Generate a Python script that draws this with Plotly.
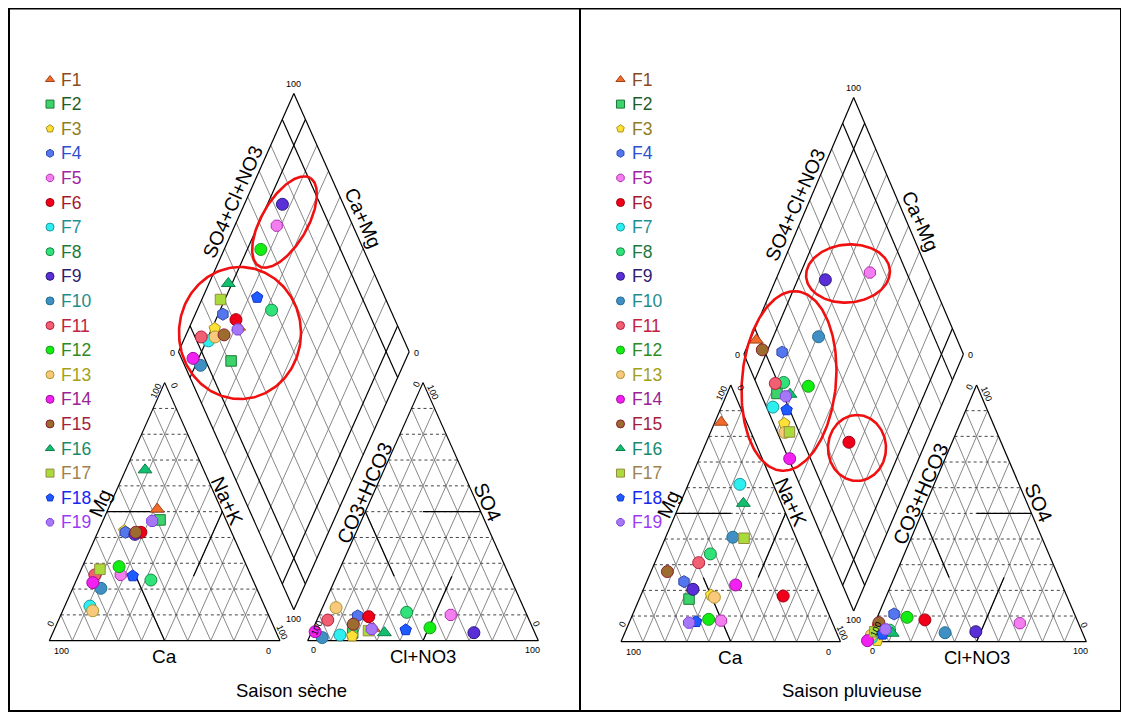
import numpy as np
import plotly.graph_objects as go

# Reference picture is 1129x715; the page body adds an 8px margin, so the figure covers
# reference pixels 8..1129 x 8..715.
REF_W, REF_H = 1129, 715
OFF = 8
W, H = REF_W - OFF, REF_H - OFF

samples = [f"F{i}" for i in range(1, 20)]

# ---------------- Saison sèche (meq %) ----------------
dry_ca = [27.7, 28.6, 46.2, 46.0, 56.3, 39.3, 75.7, 44.2, 42.3, 67.5, 67.5, 55.4, 75.4, 69.9, 41.5, 25.4, 64.2, 51.3, 32.2]
dry_mg = [51.0, 46.8, 42.6, 42.0, 25.5, 42.0, 13.4, 23.5, 41.2, 20.3, 25.5, 28.7, 11.6, 22.5, 42.0, 66.2, 27.7, 25.1, 46.4]
dry_nak = [21.3, 24.6, 11.2, 12.0, 18.2, 18.7, 10.9, 32.3, 16.5, 12.2, 7.0, 15.9, 13.0, 7.6, 16.5, 8.4, 8.1, 23.6, 21.4]
dry_hco3 = [69.2, 79.0, 79.8, 73.5, 33.0, 68.9, 84.9, 51.6, 26.4, 93.1, 87.3, 44.5, 81.3, 95.0, 77.0, 65.2, 71.7, 55.4, 70.0]
dry_so4 = [4.8, 3.0, 1.8, 9.6, 10.0, 9.3, 2.2, 11.0, 3.1, 1.2, 8.0, 5.0, 12.8, 3.5, 6.4, 3.1, 3.9, 4.2, 4.5]
dry_cl = [26.0, 18.0, 18.4, 16.9, 57.0, 21.8, 12.9, 37.4, 70.5, 5.7, 4.7, 50.5, 5.9, 1.5, 16.6, 31.7, 24.4, 40.4, 25.5]

# ---------------- Saison pluvieuse (meq %) ----------------
wet_ca = [11.6, 60.7, 49.9, 59.6, 50.3, 17.2, 15.2, 42.2, 57.0, 28.7, 49.2, 55.7, 48.8, 36.7, 65.2, 17.3, 23.8, 61.9, 65.3]
wet_mg = [85.5, 16.6, 18.2, 23.4, 8.2, 17.8, 61.3, 34.2, 20.4, 40.7, 30.8, 8.7, 17.3, 22.1, 27.3, 53.9, 40.3, 7.8, 7.4]
wet_nak = [2.9, 22.7, 31.9, 17.0, 41.5, 65.0, 23.5, 23.6, 22.6, 30.6, 20.0, 35.6, 33.9, 41.2, 7.5, 28.8, 35.9, 30.3, 27.3]
wet_hco3 = [91.6, 92.6, 95.1, 82.2, 26.7, 69.3, 97.1, 87.4, 48.4, 62.6, 91.4, 76.9, 96.6, 99.5, 90.8, 86.8, 94.4, 91.4, 89.1]
wet_so4 = [5.0, 4.0, 0.4, 10.8, 7.2, 8.5, 1.5, 4.5, 3.9, 3.5, 6.5, 9.5, 2.6, 0.4, 7.4, 3.3, 3.9, 2.9, 4.8]
wet_cl = [3.4, 3.4, 4.5, 7.0, 66.1, 22.2, 1.4, 8.1, 47.7, 33.9, 2.1, 13.6, 0.8, 0.1, 1.8, 9.9, 1.7, 5.7, 6.1]

symbols = ["triangle-up", "square", "pentagon", "hexagon", "octagon", "circle", "circle", "circle",
           "circle", "circle", "circle", "circle", "circle", "circle", "circle", "triangle-up",
           "square", "pentagon", "octagon"]
fill_colors = ["#F26B2A", "#3CD46A", "#FFE135", "#5577EE", "#F37EF0", "#F00018", "#2EEFF0", "#2FE27A",
               "#5B2FD6", "#3F8FC4", "#F25E72", "#12EE12", "#F9C87A", "#F220F0", "#9C6B2E", "#13BF6E",
               "#A9DB3D", "#1E5BFF", "#A678F7"]
edge_colors = ["#A0441C", "#1E7A36", "#A8901C", "#3048B0", "#B030B0", "#A00010", "#1A9AA0", "#1A8A44",
               "#2A1A80", "#23708F", "#B0203C", "#1C9A1C", "#A89830", "#A010A0", "#8A1C30", "#0B7F4A",
               "#9A8A40", "#1030D0", "#8040E0"]
text_colors = ["#8B4A1E", "#1F5E2A", "#8F7D22", "#2D4FCF", "#A025A6", "#A5192E", "#1E9195", "#1D7A3A",
               "#2E2070", "#1E8C8C", "#C0223F", "#2E8B1E", "#A5A01A", "#9A2295", "#A51E3C", "#178A6E",
               "#9E8250", "#1428F5", "#9C3AF5"]

seasons = [
    dict(title="Saison sèche", ca=dry_ca, mg=dry_mg, nak=dry_nak, hco3=dry_hco3, so4=dry_so4, cl=dry_cl),
    dict(title="Saison pluvieuse", ca=wet_ca, mg=wet_mg, nak=wet_nak, hco3=wet_hco3, so4=wet_so4, cl=wet_cl),
]

# panel placement (reference-pixel origin / scale of the Piper unit system)
panels = [
    dict(x0=49.3, sx=2.307, y0=640.7, sy=2.98, px_lo=OFF, px_hi=580, xa="x", ya="y", leg_x=50),
    dict(x0=621.0, sx=2.195, y0=641.7, sy=2.964, px_lo=580, px_hi=REF_W, xa="x2", ya="y2", leg_x=620.5),
]

SQ = np.sqrt(3) / 2
GAP = 12.0
AOX = 100 + GAP                      # anion triangle origin
BOT = (100 + GAP / 2, GAP * SQ)      # diamond bottom vertex


def cat_xy(ca, mg, na):
    t = ca + mg + na
    return 100 * (na + 0.5 * mg) / t, 100 * SQ * mg / t


def an_xy(hc, so, cl):
    t = hc + so + cl
    return AOX + 100 * (cl + 0.5 * so) / t, 100 * SQ * so / t


def dia_xy(c, s):
    return BOT[0] + 0.5 * (s - c), BOT[1] + SQ * (s + c)


def seg_trace(segs, xa, ya, color, width, dash="solid"):
    xs, ys = [], []
    for (x1, y1), (x2, y2) in segs:
        xs += [x1, x2, None]
        ys += [y1, y2, None]
    return go.Scatter(x=xs, y=ys, mode="lines", line=dict(color=color, width=width, dash=dash),
                      hoverinfo="skip", showlegend=False, xaxis=xa, yaxis=ya)


def frame_traces(xa, ya):
    horiz, diag, black = [], [], []
    for ox in (0.0, AOX):
        for t in range(10, 100, 10):
            h = t * SQ
            horiz.append(((ox + t / 2, h), (ox + 100 - t / 2, h)))
            diag.append(((ox + t, 0), (ox + t + (100 - t) / 2, (100 - t) * SQ)))
            diag.append(((ox + 100 - t, 0), (ox + (100 - t) / 2, (100 - t) * SQ)))
        black += [((ox, 0), (ox + 100, 0)), ((ox + 100, 0), (ox + 50, 100 * SQ)),
                  ((ox + 50, 100 * SQ), (ox, 0))]
    # classification segments
    black += [((25, 50 * SQ), (50, 50 * SQ)), ((50, 0), (37.5, 25 * SQ)), ((75, 50 * SQ), (62.5, 25 * SQ))]
    black += [((AOX + 50, 50 * SQ), (AOX + 75, 50 * SQ)), ((AOX + 25, 50 * SQ), (AOX + 37.5, 25 * SQ)),
              ((AOX + 50, 0), (AOX + 62.5, 25 * SQ))]
    dgray = []
    for t in range(0, 101, 10):
        s1 = (dia_xy(0, t), dia_xy(100, t))
        s2 = (dia_xy(t, 0), dia_xy(t, 100))
        if t in (0, 10, 90, 100):
            black += [s1, s2]
        else:
            dgray += [s1, s2]
    return [seg_trace(diag + dgray, xa, ya, "#7a7a7a", 0.9),
            seg_trace(horiz, xa, ya, "#444444", 1.0, "dot"),
            seg_trace(black, xa, ya, "#000000", 1.2)]


fig = go.Figure()

for pan, sea in zip(panels, seasons):
    for tr in frame_traces(pan["xa"], pan["ya"]):
        fig.add_trace(tr)
    for i, name in enumerate(samples):
        cx, cy = cat_xy(sea["ca"][i], sea["mg"][i], sea["nak"][i])
        ax, ay = an_xy(sea["hco3"][i], sea["so4"][i], sea["cl"][i])
        c = 100 * (sea["ca"][i] + sea["mg"][i]) / (sea["ca"][i] + sea["mg"][i] + sea["nak"][i])
        s = 100 * (sea["so4"][i] + sea["cl"][i]) / (sea["hco3"][i] + sea["so4"][i] + sea["cl"][i])
        dx, dy = dia_xy(c, s)
        size = 10.5 if symbols[i] == "square" else 12
        fig.add_trace(go.Scatter(
            x=[cx, ax, dx], y=[cy, ay, dy], mode="markers", name=name, showlegend=False,
            marker=dict(symbol=symbols[i], size=size, color=fill_colors[i],
                        line=dict(color=edge_colors[i], width=1)),
            xaxis=pan["xa"], yaxis=pan["ya"]))

# ---------------- pixel overlay: legends, ellipses, labels, frame ----------------
legend_y0, legend_dy = 79.5, 24.6
for pan in panels:
    for i, name in enumerate(samples):
        fig.add_trace(go.Scatter(
            x=[pan["leg_x"]], y=[legend_y0 + i * legend_dy], mode="markers", showlegend=False,
            marker=dict(symbol=symbols[i], size=8, color=fill_colors[i],
                        line=dict(color=edge_colors[i], width=1)),
            hoverinfo="skip", xaxis="x3", yaxis="y3"))

# red ellipses (cx, cy, semi-major, semi-minor, angle in degrees), reference pixel units
ellipses = [
    (284.5, 222.0, 51, 23, 60),
    (240.0, 333.0, 66, 61, 90),
    (848.0, 273.5, 42, 29, 5),
    (789.0, 381.0, 90, 47, 85),
    (857.0, 448.0, 33, 29, 90),
]
tt = np.linspace(0, 2 * np.pi, 200)
for cxp, cyp, a, b, ang in ellipses:
    ph = np.radians(ang)
    ex = cxp + a * np.cos(tt) * np.cos(ph) - b * np.sin(tt) * np.sin(ph)
    ey = cyp - (a * np.cos(tt) * np.sin(ph) + b * np.sin(tt) * np.cos(ph))
    fig.add_trace(go.Scatter(x=ex, y=ey, mode="lines", line=dict(color="#F01010", width=2.6),
                             hoverinfo="skip", showlegend=False, xaxis="x3", yaxis="y3"))

FONT = "Liberation Sans, Arial, sans-serif"
annotations = []


def add_text(x, y, text, size, angle=0, color="#000000", xanchor="center"):
    annotations.append(dict(x=x, y=y, xref="x3", yref="y3", text=text, showarrow=False,
                            textangle=angle, xanchor=xanchor, yanchor="middle",
                            font=dict(family=FONT, size=size, color=color)))


for pan, sea in zip(panels, seasons):
    def P(u, v, p=pan):
        return p["x0"] + p["sx"] * u, p["y0"] - p["sy"] * v

    for i, name in enumerate(samples):
        add_text(pan["leg_x"] + 9, legend_y0 + i * legend_dy, name, 17.5, color=text_colors[i], xanchor="left")

    apexc = (50, 100 * SQ)
    apexa = (AOX + 50, 100 * SQ)
    dtop = dia_xy(100, 100)
    dleft = dia_xy(100, 0)
    dright = dia_xy(0, 100)
    dbot = dia_xy(0, 0)
    ticks = [
        ("100", (0, 0), 12, 10, 0), ("0", (100, 0), -12, 10, 0),
        ("0", (0, 0), 1, -17, -66), ("100", apexc, -9, 8, -66),
        ("0", apexc, 10, 3, 66), ("100", (100, 0), 2, -9, 66),
        ("0", (AOX, 0), 6, 9, 0), ("100", (AOX + 100, 0), -6, 9, 0),
        ("100", (AOX, 0), 9, -13, -66), ("0", apexa, -7, 2, -66),
        ("100", apexa, 10, 9, 66), ("0", (AOX + 100, 0), -2, -17, 66),
        ("100", dtop, 0, -10, 0), ("0", dleft, -6, 1, 0),
        ("0", dright, 7, 1, 0), ("100", dbot, 0, 9, 0),
    ]
    for txt, (u, v), ox, oy, ang in ticks:
        px, py = P(u, v)
        add_text(px + ox, py + oy, txt, 9, ang)

    labels = [
        ("Mg", (25, 50 * SQ), -7, -9, -66, 20),
        ("Na+K", (75, 50 * SQ), 5, -11, 66, 20),
        ("Ca", (50, 0), 0, 16, 0, 19),
        ("CO3+HCO3", (AOX + 25, 50 * SQ), -1, -19, -66, 20),
        ("SO4", (AOX + 75, 50 * SQ), 7, -10, 66, 20),
        ("Cl+NO3", (AOX + 50, 0), 0, 16, 0, 18.5),
        ("SO4+Cl+NO3", dia_xy(100, 50), -4, -21, -66, 19.5),
        ("Ca+Mg", dia_xy(50, 100), 12, -5, 66, 19.5),
    ]
    for txt, (u, v), ox, oy, ang, fs in labels:
        px, py = P(u, v)
        add_text(px + ox, py + oy, txt, fs, ang)
    bx, _ = P(BOT[0], 0)
    add_text(bx - 2, 690.5, sea["title"], 18.5)

shapes = [
    dict(type="rect", xref="x3", yref="y3", x0=9, y0=8.6, x1=1121, y1=711,
         line=dict(color="#000000", width=2), fillcolor="rgba(0,0,0,0)"),
    dict(type="line", xref="x3", yref="y3", x0=580, y0=8.6, x1=580, y1=711,
         line=dict(color="#000000", width=2)),
]

layout_axes = {}
for k, pan in enumerate(panels):
    d0 = (pan["px_lo"] - OFF) / W
    d1 = (pan["px_hi"] - OFF) / W
    xr = [(pan["px_lo"] - pan["x0"]) / pan["sx"], (pan["px_hi"] - pan["x0"]) / pan["sx"]]
    yr = [(pan["y0"] - REF_H) / pan["sy"], (pan["y0"] - OFF) / pan["sy"]]
    sfx = "" if k == 0 else "2"
    layout_axes["xaxis" + sfx] = dict(domain=[d0, min(d1, 1.0)], range=xr, visible=False, fixedrange=True,
                                      anchor="y" + sfx)
    layout_axes["yaxis" + sfx] = dict(domain=[0, 1], range=yr, visible=False, fixedrange=True,
                                      anchor="x" + sfx)
layout_axes["xaxis3"] = dict(domain=[0, 1], range=[OFF, REF_W], visible=False, fixedrange=True, anchor="y3")
layout_axes["yaxis3"] = dict(domain=[0, 1], range=[REF_H, OFF], visible=False, fixedrange=True, anchor="x3")

fig.update_layout(
    width=W, height=H, autosize=False,
    margin=dict(l=0, r=0, t=0, b=0, pad=0),
    paper_bgcolor="white", plot_bgcolor="rgba(0,0,0,0)",
    showlegend=False, annotations=annotations, shapes=shapes,
    **layout_axes,
)

fig.write_html("out.html")
